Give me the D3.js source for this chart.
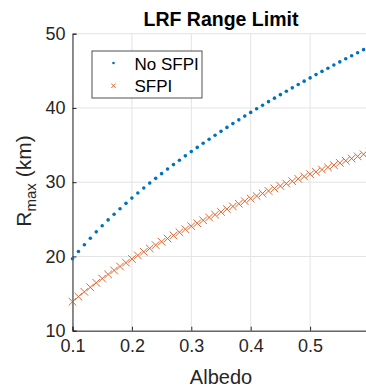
<!DOCTYPE html>
<html><head><meta charset="utf-8">
<script src="https://cdn.jsdelivr.net/npm/d3@7"></script>
<style>body{margin:0;background:#fff;overflow:hidden}text{font-family:"Liberation Sans",Arial,Helvetica,sans-serif}</style>
</head><body>
<script>
const albedo = d3.range(51).map(i => +(0.1 + i*0.01).toFixed(2));
const noSFPI = [19.70,20.66,21.58,22.46,23.31,24.13,24.92,25.68,26.43,27.15,27.86,28.55,29.22,29.88,30.52,31.15,31.77,32.37,32.96,33.55,34.12,34.69,35.24,35.79,36.32,36.85,37.38,37.89,38.40,38.90,39.40,39.89,40.37,40.85,41.32,41.79,42.25,42.71,43.16,43.61,44.05,44.49,44.92,45.35,45.78,46.20,46.62,47.03,47.44,47.85,48.26];
const SFPI = [13.90,14.58,15.23,15.85,16.45,17.02,17.58,18.12,18.65,19.16,19.66,20.14,20.62,21.08,21.53,21.98,22.41,22.84,23.26,23.67,24.08,24.47,24.87,25.25,25.63,26.00,26.37,26.74,27.10,27.45,27.80,28.14,28.49,28.82,29.16,29.49,29.81,30.13,30.45,30.77,31.08,31.39,31.70,32.00,32.30,32.60,32.89,33.19,33.48,33.76,34.05];
const xTicks = [0.1,0.2,0.3,0.4,0.5];
const yTicks = [10,20,30,40,50];
const seriesNames = ["No SFPI","SFPI"];

const W = 366, H = 389;
const blue = "#0072BD", red = "#D95319", axisCol = "#262626";
const svg = d3.select("body").append("svg").attr("width", W).attr("height", H);
const x = d3.scaleLinear().domain([0.1, 0.6]).range([72.5, 369.5]);
const y = d3.scaleLinear().domain([10, 50]).range([330.7, 33.7]);

// grid
svg.append("g").selectAll("line").data(xTicks).join("line")
  .attr("x1", d => x(d)).attr("x2", d => x(d)).attr("y1", y(10)).attr("y2", y(50))
  .attr("stroke", "#e3e3e3").attr("stroke-width", 1);
svg.append("g").selectAll("line").data(yTicks).join("line")
  .attr("x1", x(0.1)).attr("x2", x(0.6)).attr("y1", d => y(d)).attr("y2", d => y(d))
  .attr("stroke", "#e3e3e3").attr("stroke-width", 1);

// axes
const xAxis = svg.append("g").attr("transform", `translate(0,${y(10)})`)
  .call(d3.axisBottom(x).tickValues(xTicks).tickSize(-4).tickPadding(9).tickFormat(d3.format(".1f")));
const yAxis = svg.append("g").attr("transform", `translate(${x(0.1)},0)`)
  .call(d3.axisLeft(y).tickValues(yTicks).tickSize(-4).tickPadding(7));
[xAxis, yAxis].forEach(g => {
  g.select(".domain").attr("stroke", axisCol).attr("stroke-width", 1);
  g.selectAll(".tick line").attr("stroke", axisCol);
  g.selectAll(".tick text").attr("fill", axisCol).style("font-size", "18px");
});

// data
const plot = svg.append("g");
const redPts = albedo.map((a, i) => [a, SFPI[i]]);
const bluePts = albedo.map((a, i) => [a, noSFPI[i]]);
const s = 3.8;
plot.append("g").selectAll("path").data(redPts).join("path")
  .attr("d", d => { const cx = x(d[0]), cy = y(d[1]); return `M${cx-s},${cy-s}L${cx+s},${cy+s}M${cx-s},${cy+s}L${cx+s},${cy-s}`; })
  .attr("stroke", red).attr("stroke-width", 0.9).attr("fill", "none");
plot.append("g").selectAll("circle").data(bluePts).join("circle")
  .attr("cx", d => x(d[0])).attr("cy", d => y(d[1])).attr("r", 1.8).attr("fill", blue);

// title
svg.append("text").attr("x", 221).attr("y", 26).attr("text-anchor", "middle")
  .style("font-size", "19.5px").style("font-weight", "bold").attr("fill", "#000").text("LRF Range Limit");
// x label
svg.append("text").attr("x", 221).attr("y", 384).attr("text-anchor", "middle")
  .style("font-size", "20px").attr("fill", axisCol).text("Albedo");
// y label
const yl = svg.append("text").attr("transform", "translate(31,181) rotate(-90)").attr("text-anchor", "middle")
  .style("font-size", "21px").attr("fill", axisCol);
yl.append("tspan").text("R");
yl.append("tspan").attr("dy", 5).style("font-size", "15px").text("max");
yl.append("tspan").attr("dy", -5).text(" (km)");

// legend
const lg = svg.append("g");
lg.append("rect").attr("x", 92).attr("y", 51).attr("width", 110).attr("height", 47)
  .attr("fill", "#fff").attr("stroke", axisCol).attr("stroke-width", 0.8);
lg.append("circle").attr("cx", 113.5).attr("cy", 63).attr("r", 1.3).attr("fill", blue);
lg.append("path").attr("d", `M${111.3},${83.6}L${115.7},${88}M${111.3},${88}L${115.7},${83.6}`)
  .attr("stroke", red).attr("stroke-width", 0.9);
lg.selectAll("text.l").data(seriesNames).join("text").attr("class", "l")
  .attr("x", 134.5).attr("y", (d, i) => 70 + i*21.5).style("font-size", "17px").attr("fill", "#000").text(d => d);
</script>
</body></html>
